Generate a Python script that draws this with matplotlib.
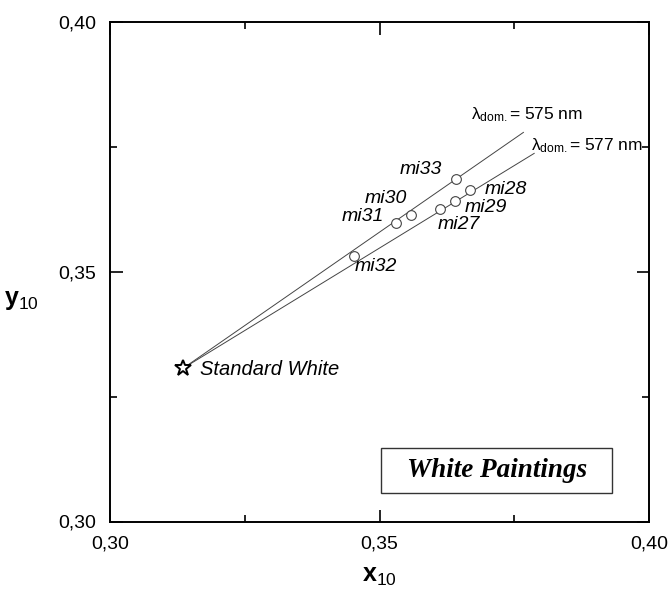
import matplotlib
matplotlib.use("Agg")
import matplotlib.pyplot as plt
from matplotlib.ticker import MultipleLocator, FuncFormatter
from matplotlib.patches import Rectangle

plt.rcParams['font.family'] = ['Liberation Sans', 'DejaVu Sans']
plt.rcParams['mathtext.fontset'] = 'custom'
plt.rcParams['mathtext.rm'] = 'Liberation Sans'
plt.rcParams['mathtext.it'] = 'Liberation Sans:italic'
plt.rcParams['mathtext.bf'] = 'Liberation Sans:bold'

# Data
white_point = (0.3136, 0.3307)
sample_names = ["mi33", "mi28", "mi29", "mi27", "mi30", "mi31", "mi32"]
sample_x = [0.3642, 0.3668, 0.3640, 0.3613, 0.3558, 0.3530, 0.3452]
sample_y = [0.3686, 0.3664, 0.3642, 0.3626, 0.3613, 0.3598, 0.3532]
label_x = [0.3576, 0.3734, 0.3697, 0.3647, 0.3511, 0.3470, 0.3494]
label_y = [0.3704, 0.3664, 0.3628, 0.3594, 0.3646, 0.3610, 0.3510]
line_575_end = (0.3767, 0.3779)
line_577_end = (0.3787, 0.3737)
xticks = [0.30, 0.35, 0.40]
yticks = [0.30, 0.35, 0.40]

fig = plt.figure(figsize=(6.72, 5.89), dpi=100)
ax = fig.add_axes([110/672, 1-521.5/589, (649-110)/672, (521.5-22)/589])

ax.plot([white_point[0], line_575_end[0]], [white_point[1], line_575_end[1]],
        color='#444444', lw=0.7)
ax.plot([white_point[0], line_577_end[0]], [white_point[1], line_577_end[1]],
        color='#444444', lw=0.7)
ax.plot(sample_x, sample_y, 'o', mfc='white', mec='#444444', mew=0.8, ms=7, ls='none')
ax.plot([white_point[0]], [white_point[1]], '*', mfc='white', mec='black', mew=1.4, ms=12)

for n, lx, ly in zip(sample_names, label_x, label_y):
    ax.text(lx, ly, n, fontsize=14, style='italic', ha='center', va='center')

ax.text(0.3167, 0.3305, "Standard White", fontsize=14.5, style='italic', ha='left', va='center')

ax.text(0.3669, 0.3806, "λ$_{\\mathrm{ dom.}}$= 575 nm", fontsize=12.5, ha='left', va='baseline')
ax.text(0.3988, 0.3744, "λ$_{\\mathrm{ dom.}}$= 577 nm", fontsize=12.5, ha='right', va='baseline')

ax.add_patch(Rectangle((0.35037, 0.30565), 0.39312 - 0.35037, 0.31477 - 0.30565,
                       fill=False, ec='#333333', lw=1.0, zorder=3))
ax.text(0.37175, 0.31021, "White Paintings", fontsize=19.5, family='Liberation Serif',
        style='italic', weight='bold', ha='center', va='center')

ax.set_xlim(0.30, 0.40)
ax.set_ylim(0.30, 0.40)
ax.set_xticks(xticks)
ax.set_yticks(yticks)
ax.xaxis.set_minor_locator(MultipleLocator(0.025))
ax.yaxis.set_minor_locator(MultipleLocator(0.025))
fmt = FuncFormatter(lambda v, p: f"{v:.2f}".replace('.', ','))
ax.xaxis.set_major_formatter(fmt)
ax.yaxis.set_major_formatter(fmt)
ax.tick_params(which='both', direction='in', top=True, right=True, labelsize=14, width=1.2, pad=10)
ax.tick_params(which='major', length=9)
ax.tick_params(which='minor', length=5)
for s in ax.spines.values():
    s.set_linewidth(1.4)

ax.set_xlabel(r"$\mathbf{x}_{\mathrm{10}}$", fontsize=18, labelpad=8)
ax.set_ylabel(r"$\mathbf{y}_{\mathrm{10}}$", fontsize=18, rotation=0)
ax.yaxis.set_label_coords(-0.165, 0.42)

fig.savefig("out.png", dpi=100)
